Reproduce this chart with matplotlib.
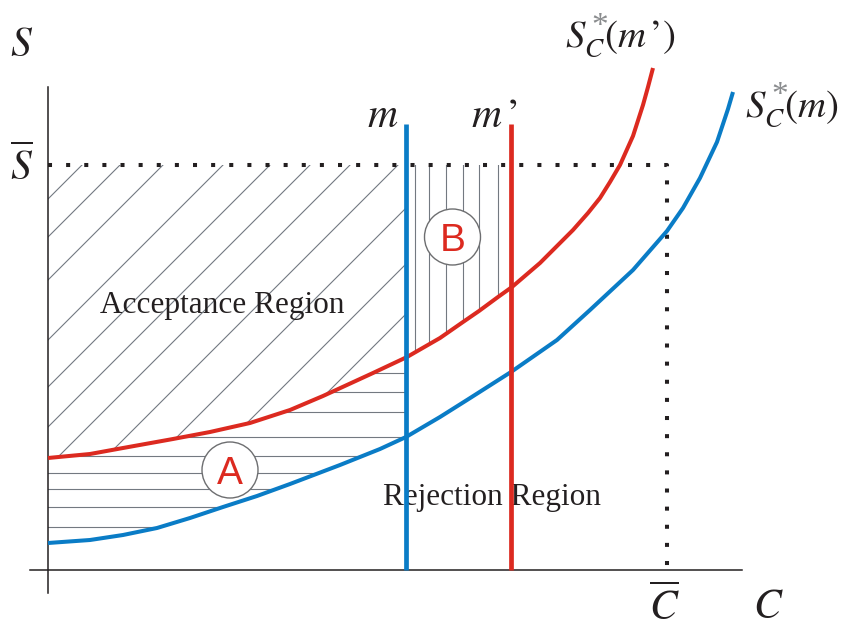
import numpy as np
import matplotlib.pyplot as plt
from matplotlib.patches import Polygon, Circle

plt.rcParams['mathtext.fontset'] = 'stix'
plt.rcParams['font.family'] = ['Liberation Serif', 'DejaVu Serif']

# curves, origin where the two axes cross
red_C = [0, 42, 75, 125, 162, 202, 242, 275, 325, 359, 392, 415, 431, 450, 464, 492, 525, 540, 552, 562,
         572, 585, 595, 600, 605]
red_S = [112, 116, 122, 131, 138, 147, 160, 174, 197, 213, 232, 248, 259, 273, 283, 307, 340, 357, 372, 388,
         405, 434, 465, 483, 502]
blue_C = [0, 42, 75, 109, 142, 175, 209, 242, 292, 332, 358, 392, 419, 463, 509, 542, 585, 619, 635, 652,
          669, 680, 685]
blue_S = [27, 30, 35, 42, 52, 63, 74, 86, 105, 121, 133, 153, 170, 198, 230, 260, 300, 339, 362, 392,
          428, 461, 478]

m_pos = 358
m2_pos = 463.5
S_bar = 405
C_bar = 619
m_top = 446

# hatching
diag_offsets = [371, 333, 290, 230, 183, 143, 103, 55, 4, -52, -102]
horiz_levels = [197, 178, 158, 133, 114, 97, 81, 63, 43]
vert_levels = [367, 381, 398, 415, 431, 450]

RED = '#dc2a20'
BLUE = '#0a7cc6'
INK = '#231f20'
HATCH = '#737981'

red_C = np.array(red_C, float)
red_S = np.array(red_S, float)
blue_C = np.array(blue_C, float)
blue_S = np.array(blue_S, float)

fig = plt.figure(figsize=(8.41, 6.26), dpi=100)
ax = fig.add_axes([0, 0, 1, 1])
ax.set_xlim(-48, 793)
ax.set_ylim(-56, 570)
ax.axis('off')

red_m = np.interp(m_pos, red_C, red_S)
red_m2 = np.interp(m2_pos, red_C, red_S)
blue_m = np.interp(m_pos, blue_C, blue_S)

left_r = red_C < m_pos
left_b = blue_C < m_pos
mid_r = (red_C > m_pos) & (red_C < m2_pos)

acc = [(0, S_bar), (m_pos, S_bar), (m_pos, red_m)] + list(zip(red_C[left_r][::-1], red_S[left_r][::-1]))
regA = list(zip(red_C[left_r], red_S[left_r])) + [(m_pos, red_m), (m_pos, blue_m)] + \
    list(zip(blue_C[left_b][::-1], blue_S[left_b][::-1]))
regB = [(m_pos, S_bar), (m2_pos, S_bar), (m2_pos, red_m2)] + \
    list(zip(red_C[mid_r][::-1], red_S[mid_r][::-1])) + [(m_pos, red_m)]

clips = []
for pts in (acc, regA, regB):
    p = Polygon(pts, closed=True, facecolor='none', edgecolor='none')
    ax.add_patch(p)
    clips.append(p)

for b in diag_offsets:
    ln, = ax.plot([-60, 800], [-60 + b, 800 + b], color=HATCH, lw=0.8, zorder=1)
    ln.set_clip_path(clips[0])
for y in horiz_levels:
    ln, = ax.plot([0, m_pos], [y, y], color=HATCH, lw=0.8, zorder=1)
    ln.set_clip_path(clips[1])
for x in vert_levels:
    ln, = ax.plot([x, x], [0, S_bar], color=HATCH, lw=0.8, zorder=1)
    ln.set_clip_path(clips[2])

# axes
ax.plot([0, 0], [-23, 483], color=INK, lw=1.1, zorder=2)
ax.plot([-18, 694], [0, 0], color=INK, lw=1.1, zorder=2)

# dotted limits
ax.plot([0, C_bar, C_bar], [S_bar, S_bar, 0], color=INK, lw=2.9,
        ls=(0, (1, 3.5)), dash_capstyle='butt', zorder=3)

# curves
ax.plot(red_C, red_S, color=RED, lw=2.9, solid_capstyle='butt', solid_joinstyle='round', zorder=4)
ax.plot(blue_C, blue_S, color=BLUE, lw=2.9, solid_capstyle='butt', solid_joinstyle='round', zorder=4)
ax.plot([m_pos, m_pos], [0, m_top], color=BLUE, lw=3.4, solid_capstyle='butt', zorder=5)
ax.plot([m2_pos, m2_pos], [0, m_top], color=RED, lw=3.4, solid_capstyle='butt', zorder=5)

# circled letters
for (cx, cy), lab in (((182, 100), 'A'), ((404.5, 333), 'B')):
    ax.add_patch(Circle((cx, cy), 28, facecolor='white', edgecolor='#6d6e70', lw=1, zorder=6))
    ax.text(cx, cy - 14, lab, color=RED, fontsize=28, family='Liberation Sans',
            ha='center', va='baseline', zorder=7)

fs = 30
ax.text(-26, 524, r'$S$', ha='center', va='center', fontsize=fs, color=INK)
ax.text(-26, 390, r'$\overline{S}$', ha='center', va='baseline', fontsize=fs, color=INK)
ax.text(350, 443, r'$m$', ha='right', va='baseline', fontsize=fs, color=INK)
ax.text(423, 443, r'$m\,’$', ha='left', va='baseline', fontsize=fs, color=INK)
ax.text(517, 523, r'$S_C^{\,}(m\,’)$', ha='left', va='baseline', fontsize=28, color=INK)
ax.text(697, 453, r'$S_C^{\,}(m)$', ha='left', va='baseline', fontsize=28, color=INK)
ax.text(552, 543, '*', ha='center', va='center', fontsize=24, color='#8a8c8e')
ax.text(732, 474, '*', ha='center', va='center', fontsize=24, color='#8a8c8e')
ax.text(616, -50, r'$\overline{C}$', ha='center', va='baseline', fontsize=fs, color=INK)
ax.text(720, -48, r'$C$', ha='center', va='baseline', fontsize=fs, color=INK)

ax.text(52, 257, 'Acceptance Region', fontsize=22.5, color=INK)
ax.text(335, 65, 'Rejection Region', fontsize=22.5, color=INK)

fig.savefig('out.png', dpi=100)
